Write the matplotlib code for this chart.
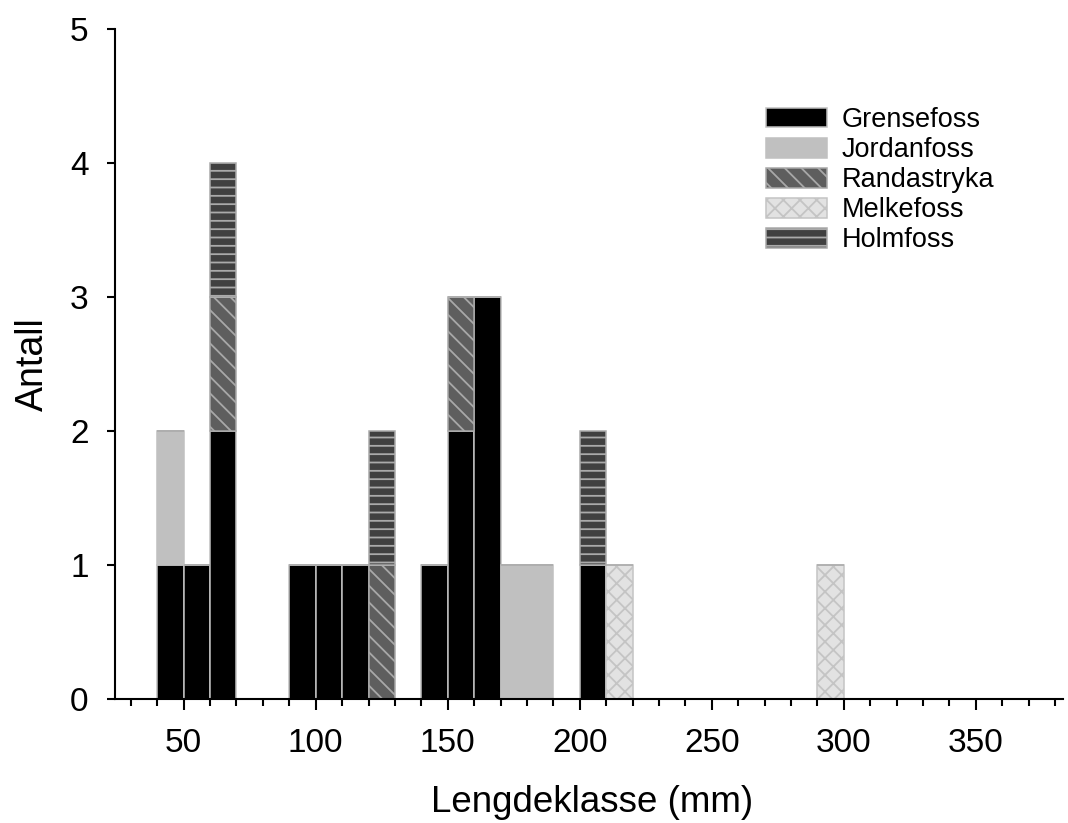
import numpy as np
import matplotlib
matplotlib.use('Agg')
import matplotlib.pyplot as plt

### Length classes (left edge of each 10 mm bin)
lengths = [40, 50, 60, 90, 100, 110, 120, 140, 150, 160, 170, 180, 200, 210, 290]

### Counts per site for each length class
grensefoss  = [1, 1, 2, 1, 1, 1, 0, 1, 2, 3, 0, 0, 1, 0, 0]
jordanfoss  = [1, 0, 0, 0, 0, 0, 0, 0, 0, 0, 1, 1, 0, 0, 0]
randastryka = [0, 0, 1, 0, 0, 0, 1, 0, 1, 0, 0, 0, 0, 0, 0]
melkefoss   = [0, 0, 0, 0, 0, 0, 0, 0, 0, 0, 0, 0, 0, 1, 1]
holmfoss    = [0, 0, 1, 0, 0, 0, 1, 0, 0, 0, 0, 0, 1, 0, 0]

sites = ['Grensefoss', 'Jordanfoss', 'Randastryka', 'Melkefoss', 'Holmfoss']
series = [grensefoss, jordanfoss, randastryka, melkefoss, holmfoss]

plt.rcParams['font.family'] = ['Liberation Sans', 'DejaVu Sans']
plt.rcParams['hatch.linewidth'] = 1.3

### Styles: fill, edge/hatch colour, hatch
fills = ['#000000', '#c0c0c0', '#5e5e5e', '#e2e2e2', '#404040']
edges = ['#c0c0c0', '#c0c0c0', '#a8a8a8', '#c4c4c4', '#aaaaaa']
hatches = [None, None, '\\\\', 'xx', '--']

fig = plt.figure(figsize=(10.68, 8.23), dpi=100)
ax = fig.add_axes([115/1068, 124/823, 948/1068, 670/823])

bottom = np.zeros(len(lengths))
for name, vals, fc, ec, h in zip(sites, series, fills, edges, hatches):
    vals = np.array(vals, dtype=float)
    ax.bar(lengths, vals, width=10, bottom=bottom, align='edge',
           color=fc, edgecolor=ec, hatch=h, linewidth=1.1, label=name)
    bottom += vals

ax.set_xlim(24, 383)
ax.set_ylim(0, 5)
ax.set_xticks([50, 100, 150, 200, 250, 300, 350])
ax.set_xticks(np.arange(30, 390, 10), minor=True)
ax.set_yticks([0, 1, 2, 3, 4, 5])

for s in ['top', 'right']:
    ax.spines[s].set_visible(False)
for s in ['left', 'bottom']:
    ax.spines[s].set_linewidth(1.5)

ax.tick_params(axis='x', which='major', length=8, width=1.5, labelsize=24, pad=13)
ax.tick_params(axis='x', which='minor', length=5, width=1.5)
ax.tick_params(axis='y', which='major', length=6, width=1.5, labelsize=24, pad=13)

### x label kept just inside the bottom edge
ax.set_xlabel('Lengdeklasse (mm)', fontsize=26.5)
ax.xaxis.set_label_coords(0.503, -0.128)
ax.set_ylabel('Antall', fontsize=27)
ax.yaxis.set_label_coords(-0.068, 0.5)

ax.legend(loc='upper left', bbox_to_anchor=(766/1068, 1 - 107/823),
          bbox_transform=fig.transFigure, frameon=False, fontsize=19.5,
          borderpad=0, borderaxespad=0, handlelength=2.25, handleheight=0.75,
          handletextpad=0.55, labelspacing=0.15)

fig.savefig('out.png', dpi=100)
